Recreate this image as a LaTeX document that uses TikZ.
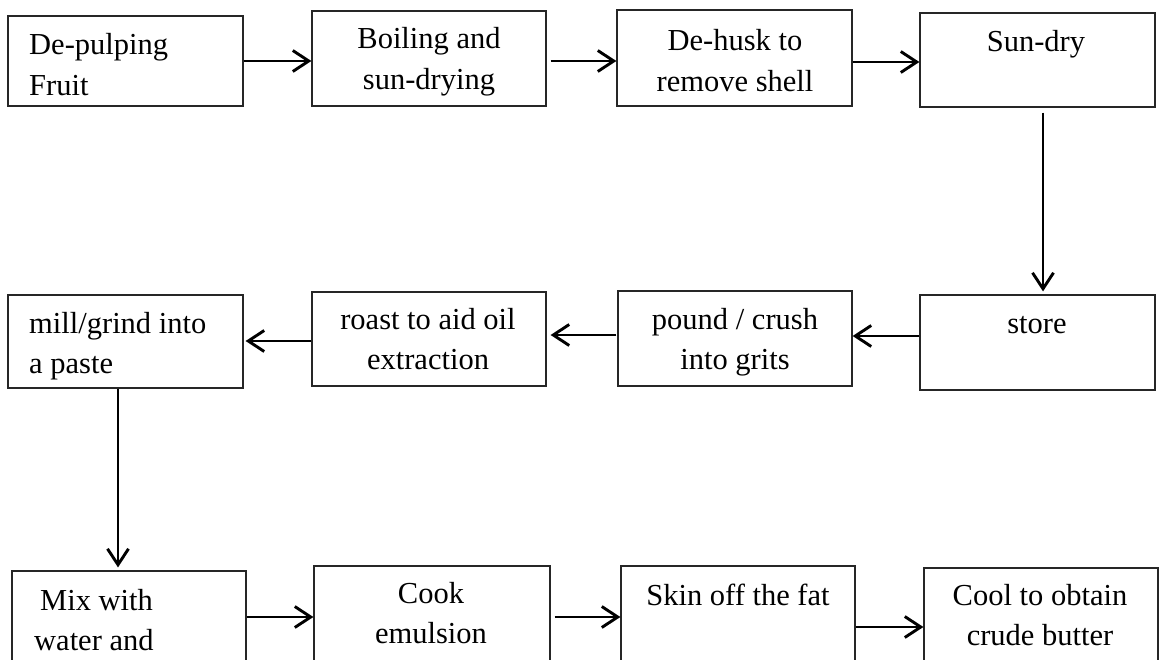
\documentclass[tikz,border=0pt]{standalone}
\usepackage{fontspec}
\setmainfont{Liberation Serif}
\usetikzlibrary{arrows.meta}
\newcommand{\ctrlines}[1]{\begin{tabular}[t]{@{}c@{}}#1\end{tabular}}
\newcommand{\leftlines}[1]{\begin{tabular}[t]{@{}l@{}}#1\end{tabular}}
\begin{document}
\begin{tikzpicture}[x=1pt,y=-1pt,
  box/.style={draw=black!85, line width=1.2pt, inner sep=0pt, rectangle},
  txt/.style={inner sep=0pt, font=\fontsize{30.5}{40.5}\selectfont},
  arr/.style={line width=2.9pt, -{Straight Barb[length=16pt,width=21pt]}}]
\useasboundingbox (0,0) rectangle (1159,660);
\clip (0,0) rectangle (1159,660);
% boxes
\node[box, minimum width=235pt, minimum height=90pt] (b1) at (125.5,61) {};
\node[box, minimum width=234pt, minimum height=95pt] (b2) at (429,58.5) {};
\node[box, minimum width=235pt, minimum height=96pt] (b3) at (734.5,58) {};
\node[box, minimum width=235pt, minimum height=94pt] (b4) at (1037.5,60) {};
\node[box, minimum width=235pt, minimum height=95pt] (b5) at (1037.5,342.5) {};
\node[box, minimum width=234pt, minimum height=95pt] (b6) at (735,338.5) {};
\node[box, minimum width=234pt, minimum height=94pt] (b7) at (429,339) {};
\node[box, minimum width=235pt, minimum height=93pt] (b8) at (125.5,341.5) {};
\node[box, minimum width=234pt, minimum height=96pt] (b9) at (129,619) {};
\node[box, minimum width=236pt, minimum height=96pt] (b10) at (432,614) {};
\node[box, minimum width=234pt, minimum height=96pt] (b11) at (738,614) {};
\node[box, minimum width=234pt, minimum height=96pt] (b12) at (1041,616) {};
% texts
\node[txt, anchor=base west] (t1) at (29,55) {\leftlines{De-pulping\\Fruit}};
\node[txt, anchor=base] (t2) at (429,49) {\ctrlines{Boiling and\\sun-drying}};
\node[txt, anchor=base] (t3) at (735,51) {\ctrlines{De-husk to\\remove shell}};
\node[txt, anchor=base] (t4) at (1036,52) {Sun-dry};
\node[txt, anchor=base] (t5) at (1037,333) {store};
\node[txt, anchor=base] (t6) at (735,329) {\ctrlines{pound / crush\\into grits}};
\node[txt, anchor=base] (t7) at (428,329) {\ctrlines{roast to aid oil\\extraction}};
\node[txt, anchor=base west] (t8) at (29,333) {\leftlines{mill/grind into\\a paste}};
\node[txt, anchor=base west] (t9) at (34,610) {\leftlines{\hspace{6pt}Mix with\\water and}};
\node[txt, anchor=base] (t10) at (431,603) {\ctrlines{Cook\\emulsion}};
\node[txt, anchor=base] (t11) at (738,605) {Skin off the fat};
\node[txt, anchor=base] (t12) at (1040,605) {\ctrlines{Cool to obtain\\crude butter}};
% arrows
\draw[arr] (b1.east |- 0,61) -- (b2.west |- 0,61);
\draw[arr, shorten <=4pt] (b2.east |- 0,61) -- (b3.west |- 0,61);
\draw[arr] (b3.east |- 0,62) -- (b4.west |- 0,62);
\draw[arr, shorten <=5pt, shorten >=3pt] (b4.south -| 1043,0) -- (b5.north -| 1043,0);
\draw[arr] (b5.west |- 0,336) -- (b6.east |- 0,336);
\draw[arr, shorten <=1pt, shorten >=4pt] (b6.west |- 0,335) -- (b7.east |- 0,335);
\draw[arr, shorten >=2pt] (b7.west |- 0,341) -- (b8.east |- 0,341);
\draw[arr, shorten >=3pt] (b8.south -| 118,0) -- (b9.north -| 118,0);
\draw[arr] (b9.east |- 0,617) -- (b10.west |- 0,617);
\draw[arr, shorten <=4pt] (b10.east |- 0,617) -- (b11.west |- 0,617);
\draw[arr] (b11.east |- 0,627) -- (b12.west |- 0,627);
\end{tikzpicture}
\end{document}
